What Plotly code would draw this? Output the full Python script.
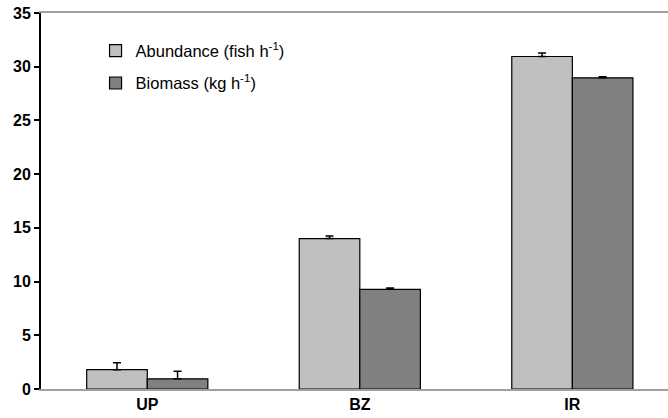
import plotly.graph_objects as go

categories = ["UP", "BZ", "IR"]
abundance = [1.8, 14.0, 30.95]
abundance_err = [0.65, 0.25, 0.33]
biomass = [0.95, 9.28, 28.97]
biomass_err = [0.7, 0.12, 0.1]
y_ticks = [0, 5, 10, 15, 20, 25, 30, 35]

xpos = list(range(len(categories)))

fig = go.Figure()
fig.add_trace(go.Bar(
    x=xpos, y=abundance, name="Abundance (fish h<sup>-1</sup>)",
    legendgroup="a",
    marker=dict(color="#c0c0c0", line=dict(color="#000000", width=1.2)),
    error_y=dict(type="data", symmetric=False, array=abundance_err,
                 arrayminus=[0] * 3, color="#000000", thickness=1.5, width=4),
))
fig.add_trace(go.Bar(
    x=xpos, y=biomass, name="Biomass (kg h<sup>-1</sup>)",
    legendgroup="b",
    marker=dict(color="#808080", line=dict(color="#000000", width=1.2)),
    error_y=dict(type="data", symmetric=False, array=biomass_err,
                 arrayminus=[0] * 3, color="#000000", thickness=1.5, width=4),
))

fig.update_layout(
    width=668, height=418,
    margin=dict(l=41, r=0, t=13, b=29),
    paper_bgcolor="white", plot_bgcolor="white",
    barmode="group", bargap=0.43, bargroupgap=0,
    font=dict(family="Liberation Sans, Arial", color="#000000"),
    showlegend=True,
    legend=dict(x=0.087, y=0.946, xanchor="left", yanchor="top",
                font=dict(size=16.5), tracegroupgap=8,
                bgcolor="rgba(0,0,0,0)"),
    xaxis=dict(
        range=[-0.5, 2.45], tickvals=xpos, ticktext=categories,
        showgrid=False, zeroline=False, showline=True, linecolor="#a0a0a0",
        linewidth=2, mirror=True, ticks="",
        tickfont=dict(size=16, family="Liberation Sans, Arial", weight="bold"),
    ),
    yaxis=dict(
        range=[0, 35], tickvals=y_ticks, showgrid=False, zeroline=False,
        showline=True, linecolor="#000000", linewidth=2, ticks="outside",
        ticklen=5, tickwidth=1.5, tickcolor="#000000",
        tickfont=dict(size=16, family="Liberation Sans, Arial", weight="bold"),
    ),
)

fig.write_html(
    "out.html",
    config={"displayModeBar": False},
    post_script="document.body.style.margin='0';document.body.style.overflow='hidden';",
)
